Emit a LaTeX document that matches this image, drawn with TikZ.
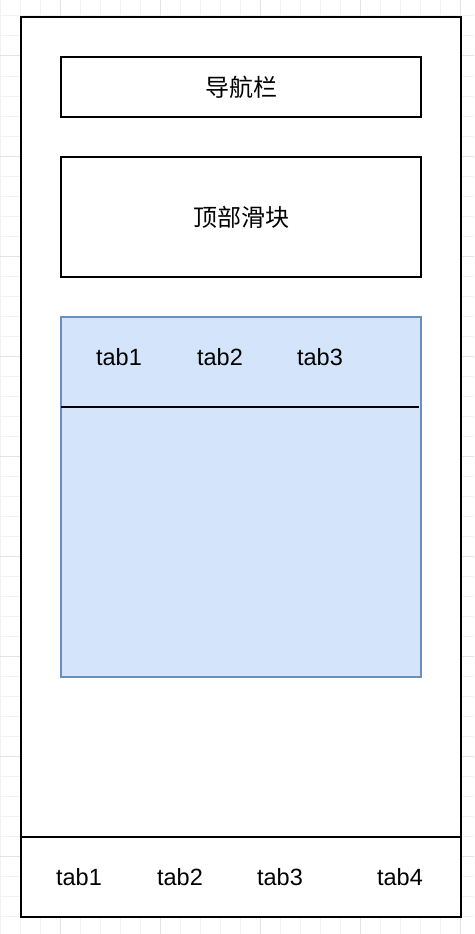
\documentclass[tikz,border=0pt]{standalone}
\usepackage{fontspec}
\setmainfont{Liberation Sans}
\newfontfamily\cjk{Noto Sans CJK SC}
\definecolor{gridminor}{HTML}{F2F2F2}
\definecolor{gridmajor}{HTML}{E3E3E3}
\definecolor{bluefill}{HTML}{D4E4FA}
\definecolor{bluestroke}{HTML}{6C8EBF}
\tikzset{
  frame/.style={draw=black, line width=2pt},
  bluebox/.style={draw=bluestroke, fill=bluefill, line width=2pt},
  lbl/.style={inner sep=0pt, font=\fontsize{24pt}{28pt}\selectfont},
  cjklbl/.style={inner sep=0pt, font=\cjk\fontsize{24pt}{28pt}\selectfont},
  tabl/.style={inner sep=0pt, anchor=base, font=\fontsize{23.5pt}{28pt}\selectfont}
}
\begin{document}
\begin{tikzpicture}[x=1pt, y=-1pt]
\useasboundingbox (0,0) rectangle (474,934);
\fill[white] (0,0) rectangle (474,934);
% grid
\foreach \x in {0,20,...,460} {
  \draw[gridminor, line width=1pt] (\x,0) -- (\x,934);
}
\foreach \y in {16,36,...,936} {
  \draw[gridminor, line width=1pt] (0,\y) -- (474,\y);
}
\foreach \x in {60,160,260,360,460} {
  \draw[gridmajor, line width=1pt] (\x,0) -- (\x,934);
}
\foreach \y in {56,156,...,956} {
  \draw[gridmajor, line width=1pt] (0,\y) -- (474,\y);
}
% outer phone frame
\node[frame, fill=white, minimum width=440pt, minimum height=900pt, inner sep=0pt, anchor=north west] (phone) at (20.4,16.4) {};
\coordinate (sepL) at (20.4,836.6);
\coordinate (sepR) at (460.4,836.6);
\draw[frame] (sepL) -- (sepR);
% nav bar
\node[frame, minimum width=360pt, minimum height=60pt, inner sep=0pt, anchor=north west] (nav) at (60.4,56.4) {};
\node[cjklbl] (navt) at (241,87) {导航栏};
% top slider
\node[frame, minimum width=360pt, minimum height=120pt, inner sep=0pt, anchor=north west] (slider) at (60.4,156.4) {};
\node[cjklbl] (slidert) at (241,217) {顶部滑块};
% blue content area
\node[bluebox, minimum width=360pt, minimum height=360pt, inner sep=0pt, anchor=north west] (content) at (60.4,316.4) {};
\coordinate (csepL) at (61.4,406.6);
\coordinate (csepR) at (419.4,406.6);
\draw[frame] (csepL) -- (csepR);
\node[tabl] (t1) at (119,365) {tab1};
\node[tabl] (t2) at (220,365) {tab2};
\node[tabl] (t3) at (320,365) {tab3};
% bottom tabs
\node[tabl] (b1) at (79,885) {tab1};
\node[tabl] (b2) at (180,885) {tab2};
\node[tabl] (b3) at (280,885) {tab3};
\node[tabl] (b4) at (400,885) {tab4};
\end{tikzpicture}
\end{document}
